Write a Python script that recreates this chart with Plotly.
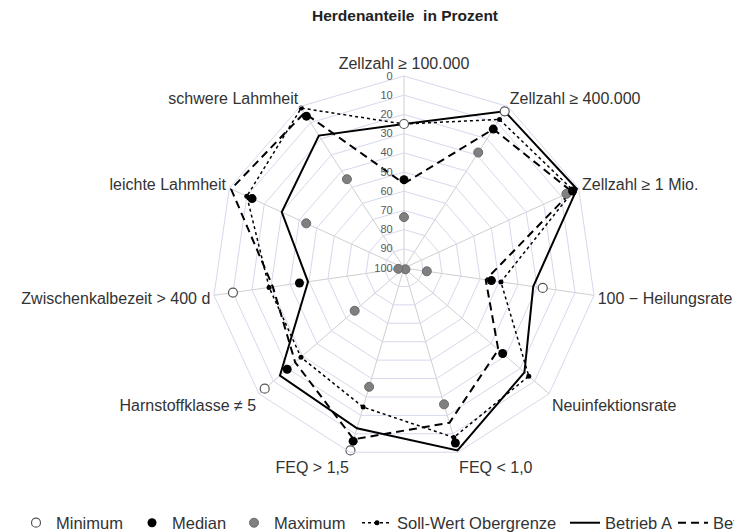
import plotly.graph_objects as go

categories = ["Zellzahl ≥ 100.000", "Zellzahl ≥ 400.000", "Zellzahl ≥ 1 Mio.",
              "100 − Heilungsrate", "Neuinfektionsrate", "FEQ < 1,0", "FEQ > 1,5",
              "Harnstoffklasse ≠ 5", "Zwischenkalbezeit > 400 d", "leichte Lahmheit",
              "schwere Lahmheit"]

minimum = [25, 3, 0, 27, 0, 0, 1, 4, 10, 0, 0]
median = [54, 14, 3.5, 54, 32, 5, 6, 19.5, 45, 13, 6]
maximum = [73.5, 28.5, 7, 88, 99, 26, 35.5, 66, 97, 44, 45]
soll_wert = [25, 8, 3, 49, 14, 8, 24.5, 29, 29, 10, 1]
betrieb_a = [25, 3, 1, 32, 17, 1, 13, 14.5, 49.5, 30, 18]
betrieb_b = [56, 14, 4, 57, 35, 16, 7, 25, 31, 1, 4]

radial_ticks = [0, 10, 20, 30, 40, 50, 60, 70, 80, 90, 100]

FONT = "Arial, Liberation Sans, sans-serif"
W, H = 742, 532
OFF = 8  # default page body margin


def closed(vals):
    return list(vals) + [vals[0]]


cats_closed = closed(categories)

fig = go.Figure()

# Lines first (markers drawn on top)
fig.add_trace(go.Scatterpolar(
    r=closed(soll_wert), theta=cats_closed, name="Soll-Wert Obergrenze",
    mode="lines+markers", line=dict(color="black", width=1.5, dash="dot"),
    marker=dict(color="black", size=5), legend="legend4"))
fig.add_trace(go.Scatterpolar(
    r=closed(betrieb_a), theta=cats_closed, name="Betrieb A",
    mode="lines", line=dict(color="black", width=2), legend="legend5"))
fig.add_trace(go.Scatterpolar(
    r=closed(betrieb_b), theta=cats_closed, name="Betrieb B",
    mode="lines", line=dict(color="black", width=2, dash="8px,5px"),
    legend="legend6"))

fig.add_trace(go.Scatterpolar(
    r=maximum, theta=categories, name="Maximum", mode="markers",
    marker=dict(color="#808080", size=9, line=dict(color="#6a6a6a", width=1)),
    legend="legend3"))
fig.add_trace(go.Scatterpolar(
    r=median, theta=categories, name="Median", mode="markers",
    marker=dict(color="black", size=9), legend="legend2"))
fig.add_trace(go.Scatterpolar(
    r=minimum, theta=categories, name="Minimum", mode="markers",
    marker=dict(color="white", size=9, line=dict(color="#555555", width=1.2)),
    legend="legend"))

legend_font = dict(size=16.5, color="#333333", family=FONT)

cx, cy, R = 404 - OFF, 268 - OFF, 192

# text start x (page pixels) of each legend entry
legend_text_x = [55, 171, 273, 396, 604, 712]


def legend_cfg(text_x):
    return dict(orientation="h", x=(text_x - 47) / W, xanchor="left",
                y=(H - (523 - OFF)) / H, yanchor="middle",
                font=legend_font, bgcolor="rgba(0,0,0,0)", itemwidth=30)


fig.update_layout(
    width=W, height=H,
    margin=dict(l=0, r=0, t=0, b=0, autoexpand=False),
    paper_bgcolor="white",
    font=dict(family=FONT, color="#333333"),
    title=dict(text="<b>Herdenanteile&nbsp; in Prozent</b>", x=(cx + 1) / W, xanchor="center",
               y=1 - (16 - OFF) / H, yanchor="middle",
               font=dict(size=15.5, color="#222222", family=FONT)),
    polar=dict(
        domain=dict(x=[(cx - R) / W, (cx + R) / W],
                    y=[(H - cy - R) / H, (H - cy + R) / H]),
        bgcolor="white",
        gridshape="linear",
        radialaxis=dict(
            range=[100, 0], tickvals=radial_ticks, ticktext=[str(t) for t in radial_ticks],
            angle=90, tickangle=90, side="counterclockwise",
            showline=False, ticks="outside", ticklen=7, tickcolor="rgba(0,0,0,0)",
            gridcolor="#d5d9ec", gridwidth=1,
            tickfont=dict(size=11, color="#595959", family=FONT)),
        angularaxis=dict(
            direction="clockwise", rotation=90,
            gridcolor="#cfcfcf", gridwidth=1,
            linecolor="#d5d9ec", showline=True, ticks="",
            tickfont=dict(size=16, color="#333333", family=FONT)),
    ),
    showlegend=True,
    legend=legend_cfg(legend_text_x[0]),
    legend2=legend_cfg(legend_text_x[1]),
    legend3=legend_cfg(legend_text_x[2]),
    legend4=legend_cfg(legend_text_x[3]),
    legend5=legend_cfg(legend_text_x[4]),
    legend6=legend_cfg(legend_text_x[5]),
)

fig.write_html("out.html")
